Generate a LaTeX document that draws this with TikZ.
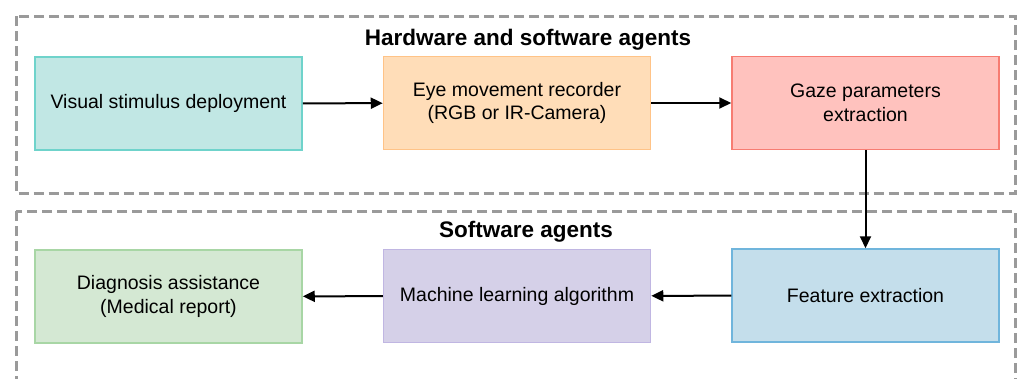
\documentclass[tikz,border=0pt]{standalone}
\usepackage{fontspec}
\setmainfont{Liberation Sans}
\usetikzlibrary{arrows.meta}
\definecolor{c1f}{HTML}{C1E7E4}\definecolor{c1d}{HTML}{6FD3CB}
\definecolor{c2f}{HTML}{FFDDB8}\definecolor{c2d}{HTML}{FFC387}
\definecolor{c3f}{HTML}{FFC2BE}\definecolor{c3d}{HTML}{F77C72}
\definecolor{c4f}{HTML}{D4E8D3}\definecolor{c4d}{HTML}{A8D6A5}
\definecolor{c5f}{HTML}{D5D0E8}\definecolor{c5d}{HTML}{C0B6E2}
\definecolor{c6f}{HTML}{C4DEEB}\definecolor{c6d}{HTML}{70B5DC}
\definecolor{dashgray}{HTML}{9A9A9A}
\tikzset{
  procbox/.style={draw, line width=1.5pt, minimum width=267pt, minimum height=93pt,
    inner sep=0pt, align=center, font=\fontsize{19.5}{23.5}\selectfont},
  groupbox/.style={draw=dashgray, line width=3pt, dash pattern=on 10pt off 5pt},
  flow/.style={line width=2pt, -{Triangle[length=12pt,width=11pt]}},
  grouptitle/.style={font=\fontsize{22.5}{26}\selectfont\bfseries, inner sep=0pt}
}
\begin{document}
\begin{tikzpicture}[x=1pt,y=-1pt]
\useasboundingbox (0,0) rectangle (1021,378);
\clip (0,0) rectangle (1021,378);
\draw[groupbox] (16,16) rectangle (1015,193.5);
\draw[groupbox] (16,211) rectangle (1015,400);
\node[grouptitle] (t1) at (528,39.5) {Hardware and software agents};
\node[grouptitle] (t2) at (526,232) {Software agents};
\node[procbox, fill=c1f, draw=c1d] (vis) at (168.5,103.5) {Visual stimulus deployment};
\node[procbox, fill=c2f, draw=c2d] (eye) at (517,103) {Eye movement recorder\\(RGB or IR-Camera)};
\node[procbox, fill=c3f, draw=c3d] (gaze) at (865.5,103) {Gaze parameters\\extraction};
\node[procbox, fill=c4f, draw=c4d] (diag) at (168.5,296.5) {Diagnosis assistance\\(Medical report)};
\node[procbox, fill=c5f, draw=c5d] (ml) at (517,296) {Machine learning algorithm};
\node[procbox, fill=c6f, draw=c6d] (feat) at (865.5,295.5) {Feature extraction};
\draw[flow] (vis) -- (eye);
\draw[flow] (eye) -- (gaze);
\draw[flow] (gaze) -- (feat);
\draw[flow] (feat) -- (ml);
\draw[flow] (ml) -- (diag);
\end{tikzpicture}
\end{document}
